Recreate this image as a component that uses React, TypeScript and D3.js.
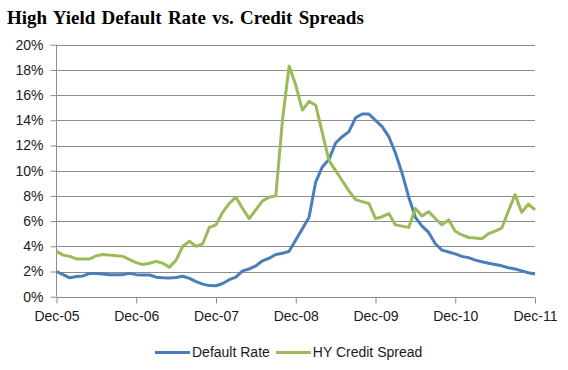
import React, { useEffect, useRef } from 'react';
import * as d3 from 'd3';

// monthly values, Dec-05 .. Dec-11 (73 months)
const defaultRate = [
  2.0, 1.75, 1.5, 1.6, 1.65, 1.85, 1.85, 1.8, 1.75, 1.75, 1.75, 1.85,
  1.75, 1.72, 1.72, 1.55, 1.5, 1.48, 1.52, 1.62, 1.45, 1.2, 1.0, 0.88,
  0.87, 1.05, 1.35, 1.55, 2.05, 2.2, 2.45, 2.85, 3.05, 3.35, 3.45, 3.6,
  4.5, 5.4, 6.3, 9.1, 10.3, 10.9, 12.2, 12.7, 13.1, 14.2, 14.5, 14.5,
  14.0, 13.5, 12.7, 11.4, 9.8, 7.9, 6.3, 5.6, 5.1, 4.2, 3.7, 3.55,
  3.4, 3.2, 3.1, 2.9, 2.78, 2.65, 2.55, 2.45, 2.3, 2.2, 2.05, 1.9,
  1.8
];

const hySpread = [
  3.6, 3.3, 3.2, 3.0, 3.0, 3.0, 3.25, 3.35, 3.3, 3.25, 3.2, 2.95,
  2.7, 2.55, 2.65, 2.8, 2.65, 2.35, 2.9, 4.0, 4.4, 4.0, 4.2, 5.5,
  5.7, 6.7, 7.4, 7.9, 7.0, 6.2, 6.9, 7.6, 7.9, 8.0, 14.0, 18.3,
  16.8, 14.8, 15.5, 15.2, 13.0, 10.8, 10.0, 9.2, 8.4, 7.7, 7.55, 7.4,
  6.2, 6.35, 6.6, 5.7, 5.6, 5.5, 7.0, 6.4, 6.75, 6.2, 5.7, 6.1,
  5.2, 4.9, 4.7, 4.65, 4.6, 5.0, 5.2, 5.45, 6.8, 8.1, 6.7, 7.35,
  6.9
];

const xTickLabels = ['Dec-05', 'Dec-06', 'Dec-07', 'Dec-08', 'Dec-09', 'Dec-10', 'Dec-11'];
const yTicks = [0, 2, 4, 6, 8, 10, 12, 14, 16, 18, 20];

const series = [
  { name: 'Default Rate', values: defaultRate, color: '#4a7ebb' },
  { name: 'HY Credit Spread', values: hySpread, color: '#9bbb59' },
];

function Chart() {
  const svgRef = useRef<SVGSVGElement>(null);

  useEffect(() => {
    const svg = d3.select(svgRef.current);
    svg.selectAll('*').remove();

    const width = 568;
    const height = 370;
    const left = 56.5, right = 535, top = 44.7, bottom = 296.7;
    const font = '"Liberation Sans", Arial, sans-serif';

    const x = d3.scaleLinear().domain([0, 72]).range([left, right]);
    const y = d3.scaleLinear().domain([0, 20]).range([bottom, top]);

    svg.append('rect').attr('width', width).attr('height', height).attr('fill', '#fff');

    // title
    svg.append('text')
      .attr('x', 7)
      .attr('y', 24)
      .style('font-family', '"Liberation Serif", "Times New Roman", serif')
      .style('font-weight', 'bold')
      .style('font-size', '19px')
      .style('word-spacing', '1.5px')
      .style('fill', '#000')
      .text('High Yield Default Rate vs. Credit Spreads');

    // gridlines
    svg.append('g')
      .selectAll('line')
      .data(yTicks.filter(t => t > 0))
      .enter()
      .append('line')
      .attr('x1', left)
      .attr('x2', right)
      .attr('y1', d => Math.round(y(d)) + 0.5)
      .attr('y2', d => Math.round(y(d)) + 0.5)
      .attr('stroke', '#8c8c8c')
      .attr('stroke-width', 1);

    // Y axis
    const yAxis = svg.append('g')
      .attr('transform', `translate(${Math.round(left) - 0.5},0)`)
      .call(d3.axisLeft(y).tickValues(yTicks).tickSize(6).tickFormat(d => `${d}%`));
    yAxis.select('.domain').attr('stroke', '#8c8c8c').attr('d', `M0,${top}V${bottom}`);
    yAxis.selectAll('.tick line').attr('stroke', '#8c8c8c');
    yAxis.selectAll('text')
      .attr('x', -13)
      .style('font-family', font)
      .style('font-size', '14px')
      .style('fill', '#1a1a1a');

    // X axis
    const xAxis = svg.append('g')
      .attr('transform', `translate(0,${Math.round(bottom) + 0.5})`)
      .call(d3.axisBottom(x)
        .tickValues(xTickLabels.map((_, i) => i * 12))
        .tickSize(6)
        .tickFormat((_, i) => xTickLabels[i]));
    xAxis.select('.domain').attr('stroke', '#8c8c8c').attr('d', `M${left},0H${right}`);
    xAxis.selectAll('.tick line').attr('stroke', '#8c8c8c');
    xAxis.selectAll('text')
      .attr('y', 14)
      .style('font-family', font)
      .style('font-size', '14px')
      .style('fill', '#1a1a1a');

    // lines
    const line = d3.line<number>()
      .x((_, i) => x(i))
      .y(d => y(d));

    series.forEach(s => {
      svg.append('path')
        .datum(s.values)
        .attr('fill', 'none')
        .attr('stroke', s.color)
        .attr('stroke-width', 3)
        .attr('stroke-linejoin', 'round')
        .attr('d', line);
    });

    // legend
    const legend = svg.append('g').attr('transform', 'translate(155,352.5)');
    let offset = 0;
    series.forEach(s => {
      const g = legend.append('g').attr('transform', `translate(${offset},0)`);
      g.append('line')
        .attr('x1', 0).attr('x2', 35)
        .attr('stroke', s.color)
        .attr('stroke-width', 3);
      const t = g.append('text')
        .attr('x', 37)
        .attr('dy', '0.35em')
        .style('font-family', font)
        .style('font-size', '14px')
        .style('fill', '#1a1a1a')
        .text(s.name);
      const w = (t.node() as SVGTextElement).getComputedTextLength();
      offset += 37 + w + 6;
    });
  }, []);

  return <svg ref={svgRef} width={568} height={370} style={{ display: 'block' }}></svg>;
}

export default function App() {
  return (
    <div style={{ position: 'absolute', left: 0, top: 0 }}>
      <Chart />
    </div>
  );
}
